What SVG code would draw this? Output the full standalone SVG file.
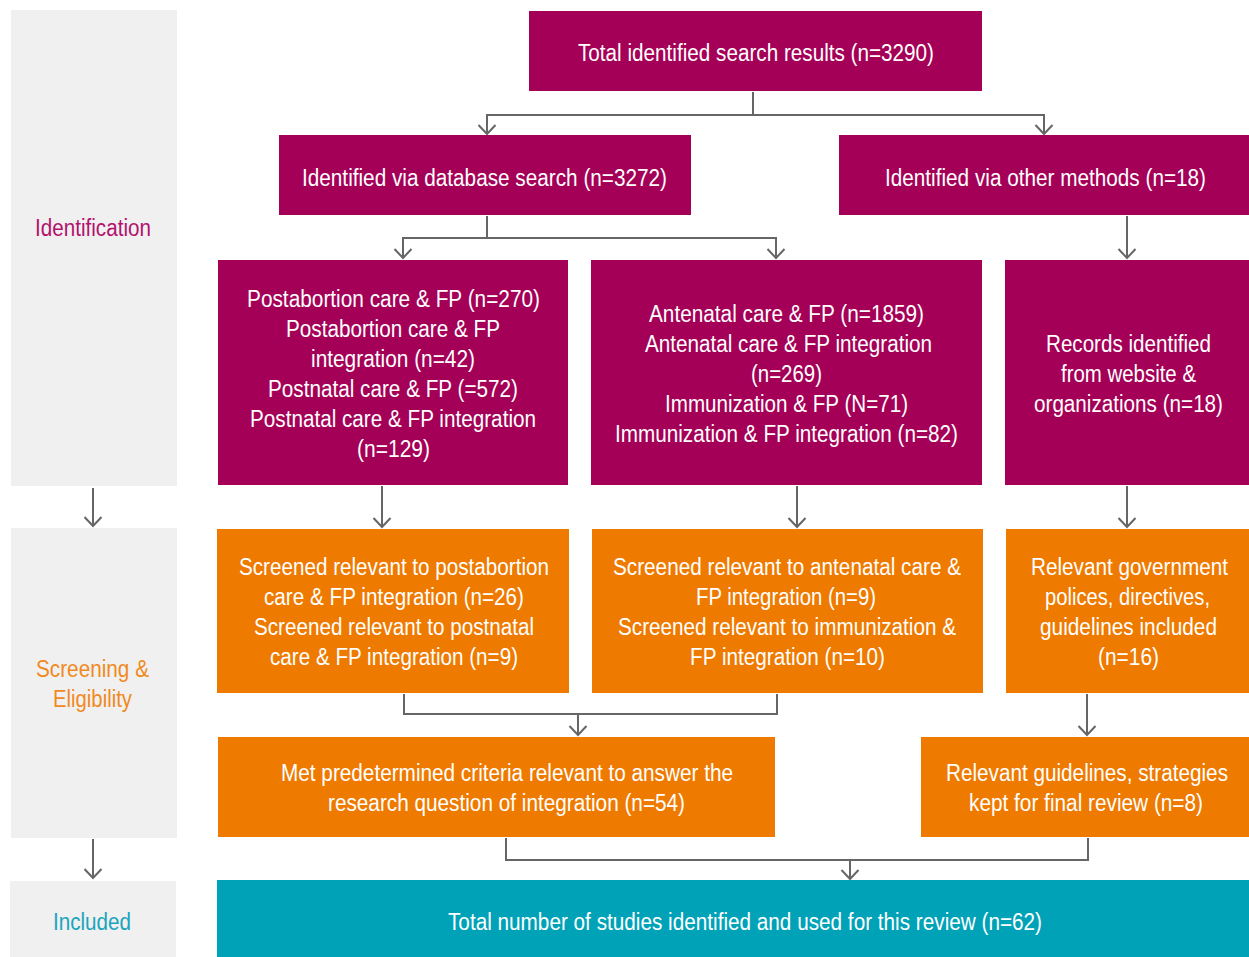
<svg xmlns="http://www.w3.org/2000/svg" width="1249" height="957" viewBox="0 0 1249 957">
<defs>
<style>
.bg{fill:#ffffff}
.panel{fill:#f0f0f0}
.c1{fill:#a50057}
.c2{fill:#ef7a00}
.c3{fill:#00a2b8}
.t{font-family:"Liberation Sans Narrow","Arial Narrow","Liberation Sans",Arial,sans-serif;font-size:23px;fill:#ffffff;text-anchor:middle}
.lab{font-family:"Liberation Sans Narrow","Arial Narrow","Liberation Sans",Arial,sans-serif;font-size:23px;text-anchor:middle}
.conn{fill:none;stroke:#666666;stroke-width:2}
</style>
<marker id="arr" viewBox="0 0 20 20" refX="10" refY="10" markerWidth="20" markerHeight="20" markerUnits="userSpaceOnUse" orient="auto">
<path d="M1,1.5 L10,10 L1,18.5" fill="none" stroke="#666666" stroke-width="2"/>
</marker>
</defs>
<rect class="bg" x="0" y="0" width="1249" height="957"/>

<g id="phase-identification">
<rect class="panel" x="11" y="10" width="166" height="476"/>
<text class="lab" x="93" y="236" fill="#b3126e" textLength="116" lengthAdjust="spacingAndGlyphs">Identification</text>
</g>
<g id="phase-screening">
<rect class="panel" x="11" y="528" width="166" height="310"/>
<text class="lab" x="92.5" y="677" fill="#f08a1e" textLength="113" lengthAdjust="spacingAndGlyphs">Screening &amp;</text>
<text class="lab" x="92.5" y="707" fill="#f08a1e" textLength="79" lengthAdjust="spacingAndGlyphs">Eligibility</text>
</g>
<g id="phase-included">
<rect class="panel" x="10" y="881" width="166" height="76"/>
<text class="lab" x="92" y="930" fill="#1aa5bd" textLength="78" lengthAdjust="spacingAndGlyphs">Included</text>
</g>

<g id="connectors">
<path class="conn" d="M93,488 V526" marker-end="url(#arr)"/>
<path class="conn" d="M93,839 V878" marker-end="url(#arr)"/>
<path class="conn" d="M753,92 V115"/>
<path class="conn" d="M487,115 H1044"/>
<path class="conn" d="M487,114 V134" marker-end="url(#arr)"/>
<path class="conn" d="M1044,114 V134" marker-end="url(#arr)"/>
<path class="conn" d="M487,216 V238"/>
<path class="conn" d="M403,238 H776"/>
<path class="conn" d="M403,237 V258" marker-end="url(#arr)"/>
<path class="conn" d="M776,237 V258" marker-end="url(#arr)"/>
<path class="conn" d="M1127,216 V258" marker-end="url(#arr)"/>
<path class="conn" d="M382,486 V527" marker-end="url(#arr)"/>
<path class="conn" d="M797,486 V527" marker-end="url(#arr)"/>
<path class="conn" d="M1127,486 V527" marker-end="url(#arr)"/>
<path class="conn" d="M404,694 V714 H777 V694"/>
<path class="conn" d="M578,713 V735" marker-end="url(#arr)"/>
<path class="conn" d="M1087,694 V735" marker-end="url(#arr)"/>
<path class="conn" d="M506,838 V860 H1088 V838"/>
<path class="conn" d="M850,859 V879" marker-end="url(#arr)"/>
</g>

<g id="n-total">
<rect class="c1" x="529" y="11" width="453" height="80"/>
<text class="t" x="756" y="61" textLength="356" lengthAdjust="spacingAndGlyphs">Total identified search results (n=3290)</text>
</g>
<g id="n-database">
<rect class="c1" x="279" y="135" width="412" height="80"/>
<text class="t" x="484.5" y="186" textLength="365" lengthAdjust="spacingAndGlyphs">Identified via database search (n=3272)</text>
</g>
<g id="n-other">
<rect class="c1" x="839" y="135" width="410" height="80"/>
<text class="t" x="1045.5" y="186" textLength="321" lengthAdjust="spacingAndGlyphs">Identified via other methods (n=18)</text>
</g>

<g id="n-postabortion">
<rect class="c1" x="218" y="260" width="350" height="225"/>
<text class="t" x="393.5" y="307" textLength="293" lengthAdjust="spacingAndGlyphs">Postabortion care &amp; FP (n=270)</text>
<text class="t" x="393" y="337" textLength="214" lengthAdjust="spacingAndGlyphs">Postabortion care &amp; FP</text>
<text class="t" x="393" y="367" textLength="164" lengthAdjust="spacingAndGlyphs">integration (n=42)</text>
<text class="t" x="393" y="397" textLength="250" lengthAdjust="spacingAndGlyphs">Postnatal care &amp; FP (=572)</text>
<text class="t" x="393" y="427" textLength="286" lengthAdjust="spacingAndGlyphs">Postnatal care &amp; FP integration</text>
<text class="t" x="393.5" y="457" textLength="73" lengthAdjust="spacingAndGlyphs">(n=129)</text>
</g>
<g id="n-antenatal">
<rect class="c1" x="591" y="260" width="391" height="225"/>
<text class="t" x="786.5" y="322" textLength="275" lengthAdjust="spacingAndGlyphs">Antenatal care &amp; FP (n=1859)</text>
<text class="t" x="788.5" y="352" textLength="287" lengthAdjust="spacingAndGlyphs">Antenatal care &amp; FP integration</text>
<text class="t" x="786.5" y="382" textLength="71" lengthAdjust="spacingAndGlyphs">(n=269)</text>
<text class="t" x="786.5" y="412" textLength="243" lengthAdjust="spacingAndGlyphs">Immunization &amp; FP (N=71)</text>
<text class="t" x="786.5" y="442" textLength="343" lengthAdjust="spacingAndGlyphs">Immunization &amp; FP integration (n=82)</text>
</g>
<g id="n-records">
<rect class="c1" x="1005" y="260" width="244" height="225"/>
<text class="t" x="1128.5" y="352" textLength="165" lengthAdjust="spacingAndGlyphs">Records identified</text>
<text class="t" x="1128.5" y="382" textLength="135" lengthAdjust="spacingAndGlyphs">from website &amp;</text>
<text class="t" x="1128.5" y="412" textLength="189" lengthAdjust="spacingAndGlyphs">organizations (n=18)</text>
</g>

<g id="n-screen-pa">
<rect class="c2" x="217" y="529" width="352" height="164"/>
<text class="t" x="394" y="575" textLength="310" lengthAdjust="spacingAndGlyphs">Screened relevant to postabortion</text>
<text class="t" x="394" y="605" textLength="260" lengthAdjust="spacingAndGlyphs">care &amp; FP integration (n=26)</text>
<text class="t" x="394" y="635" textLength="280" lengthAdjust="spacingAndGlyphs">Screened relevant to postnatal</text>
<text class="t" x="394" y="665" textLength="248" lengthAdjust="spacingAndGlyphs">care &amp; FP integration (n=9)</text>
</g>
<g id="n-screen-an">
<rect class="c2" x="592" y="529" width="391" height="164"/>
<text class="t" x="787" y="575" textLength="348" lengthAdjust="spacingAndGlyphs">Screened relevant to antenatal care &amp;</text>
<text class="t" x="786" y="605" textLength="180" lengthAdjust="spacingAndGlyphs">FP integration (n=9)</text>
<text class="t" x="787" y="635" textLength="338" lengthAdjust="spacingAndGlyphs">Screened relevant to immunization &amp;</text>
<text class="t" x="787.5" y="665" textLength="195" lengthAdjust="spacingAndGlyphs">FP integration (n=10)</text>
</g>
<g id="n-gov">
<rect class="c2" x="1006" y="529" width="243" height="164"/>
<text class="t" x="1129.5" y="575" textLength="197" lengthAdjust="spacingAndGlyphs">Relevant government</text>
<text class="t" x="1127.5" y="605" textLength="165" lengthAdjust="spacingAndGlyphs">polices, directives,</text>
<text class="t" x="1128.5" y="635" textLength="177" lengthAdjust="spacingAndGlyphs">guidelines included</text>
<text class="t" x="1128.5" y="665" textLength="61" lengthAdjust="spacingAndGlyphs">(n=16)</text>
</g>

<g id="n-met">
<rect class="c2" x="218" y="737" width="557" height="100"/>
<text class="t" x="507" y="781" textLength="452" lengthAdjust="spacingAndGlyphs">Met predetermined criteria relevant to answer the</text>
<text class="t" x="506.5" y="811" textLength="357" lengthAdjust="spacingAndGlyphs">research question of integration (n=54)</text>
</g>
<g id="n-guidelines">
<rect class="c2" x="921" y="737" width="328" height="100"/>
<text class="t" x="1087" y="781" textLength="282" lengthAdjust="spacingAndGlyphs">Relevant guidelines, strategies</text>
<text class="t" x="1086" y="811" textLength="234" lengthAdjust="spacingAndGlyphs">kept for final review (n=8)</text>
</g>

<g id="n-final">
<rect class="c3" x="217" y="880" width="1032" height="77"/>
<text class="t" x="745" y="930" textLength="594" lengthAdjust="spacingAndGlyphs">Total number of studies identified and used for this review (n=62)</text>
</g>
</svg>
